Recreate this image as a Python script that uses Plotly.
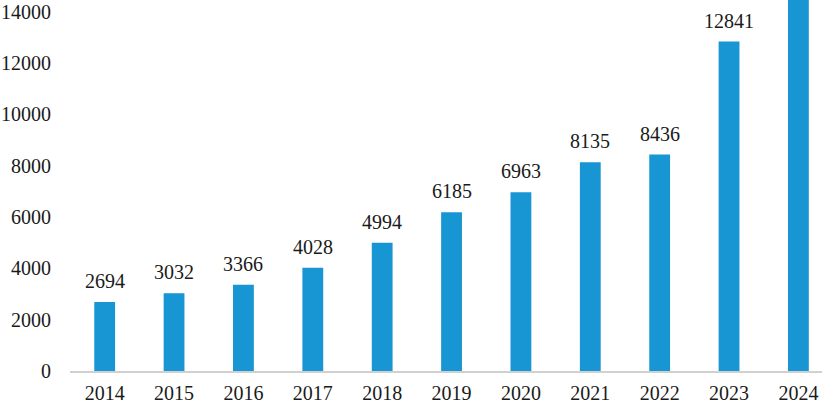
import plotly.graph_objects as go

years = ["2014", "2015", "2016", "2017", "2018", "2019", "2020", "2021", "2022", "2023", "2024"]
values = [2694, 3032, 3366, 4028, 4994, 6185, 6963, 8135, 8436, 12841, 15200]
y_ticks = [0, 2000, 4000, 6000, 8000, 10000, 12000, 14000]

Y_MAX = 14460
FONT = "Liberation Serif, Times New Roman, serif"

fig = go.Figure()
fig.add_trace(go.Bar(
    x=years, y=values,
    marker=dict(color="#1796D3", line=dict(width=0)),
    cliponaxis=True,
))

for i, v in enumerate(values):
    if v < Y_MAX - 1200:
        fig.add_annotation(
            x=i, y=v, text=str(v), showarrow=False,
            xref="x", yref="y",
            yanchor="bottom", yshift=8,
            font=dict(family=FONT, size=20, color="#1a1a1a"),
        )

fig.update_layout(
    width=822, height=404,
    margin=dict(l=70, r=0, t=0, b=31),
    paper_bgcolor="white", plot_bgcolor="white",
    showlegend=False,
    bargap=0.7,
    font=dict(family=FONT, size=20, color="#1a1a1a"),
)
fig.update_xaxes(
    type="category",
    range=[-0.5, 10.34],
    showline=True, linecolor="#d0d0d0", linewidth=2,
    ticks="outside", ticklen=3, tickcolor="rgba(0,0,0,0)",
    showgrid=False,
    tickfont=dict(family=FONT, size=20, color="#1a1a1a"),
)
fig.update_yaxes(
    range=[0, Y_MAX],
    tickvals=y_ticks,
    ticktext=[str(t) for t in y_ticks],
    showgrid=False, zeroline=False, showline=False,
    ticks="outside", ticklen=14, tickcolor="rgba(0,0,0,0)",
    tickfont=dict(family=FONT, size=20, color="#1a1a1a"),
)

fig.write_html(
    "out.html",
    config={"displayModeBar": False},
    post_script="document.body.style.margin='0';document.body.style.overflow='hidden';",
)
